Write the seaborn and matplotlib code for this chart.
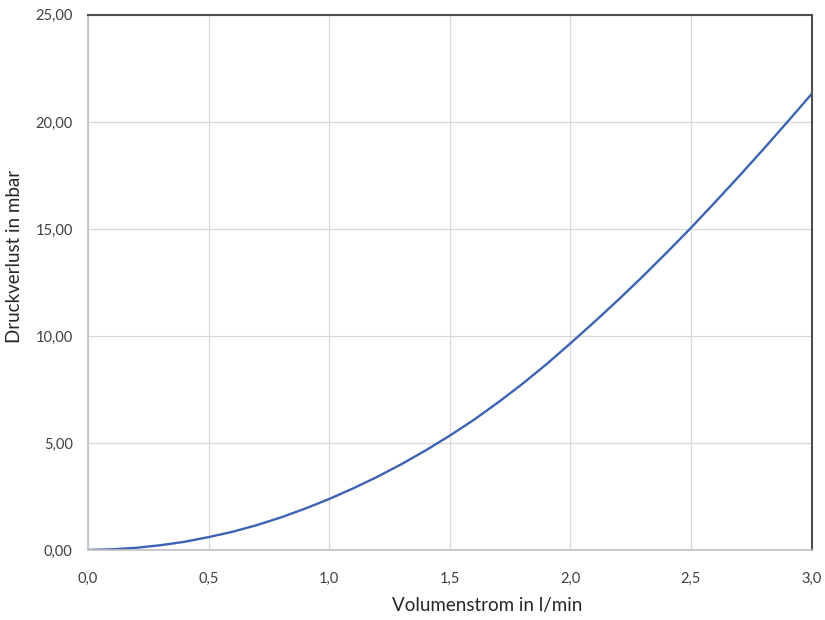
import numpy as np
import pandas as pd
import matplotlib
matplotlib.use("Agg")
import matplotlib.pyplot as plt
from matplotlib.ticker import FuncFormatter, MultipleLocator
import seaborn as sns

# values
volumenstrom = [0.0, 0.1, 0.2, 0.3, 0.4, 0.5, 0.6, 0.7, 0.8, 0.9,
                1.0, 1.1, 1.2, 1.3, 1.4, 1.5, 1.6, 1.7, 1.8, 1.9,
                2.0, 2.1, 2.2, 2.3, 2.4, 2.5, 2.6, 2.7, 2.8, 2.9, 3.0]
druckverlust = [0.00, 0.03, 0.10, 0.22, 0.38, 0.60, 0.85, 1.16, 1.52, 1.93,
                2.38, 2.88, 3.42, 4.01, 4.65, 5.34, 6.08, 6.89, 7.75, 8.67,
                9.65, 10.66, 11.70, 12.78, 13.90, 15.05, 16.25, 17.47, 18.72, 20.00,
                21.30]

df = pd.DataFrame({"Volumenstrom": volumenstrom, "Druckverlust": druckverlust})

sns.set_theme(style="white")
plt.rcParams["font.family"] = ["Lato", "DejaVu Sans"]

fig = plt.figure(figsize=(8.25, 6.2), dpi=100)
ax = fig.add_axes([0.1067, 0.113, 0.877, 0.863])

sns.lineplot(data=df, x="Volumenstrom", y="Druckverlust", ax=ax,
             color="#3d64b4", linewidth=1.7)

ax.set_xlim(0, 3.0)
ax.set_ylim(0, 25)
ax.xaxis.set_major_locator(MultipleLocator(0.5))
ax.yaxis.set_major_locator(MultipleLocator(5))
ax.xaxis.set_major_formatter(FuncFormatter(lambda v, p: f"{v:.1f}".replace(".", ",")))
ax.yaxis.set_major_formatter(FuncFormatter(lambda v, p: f"{v:.2f}".replace(".", ",")))

ax.grid(True, color="#d9d9d9", linewidth=0.9)
ax.set_axisbelow(True)

for side in ["left", "bottom"]:
    ax.spines[side].set_color("#c0c0c0")
    ax.spines[side].set_linewidth(1.2)
for side in ["top", "right"]:
    ax.spines[side].set_color("#505050")
    ax.spines[side].set_linewidth(1.5)

ax.tick_params(axis="both", length=0, labelsize=10.5, colors="#404040")
ax.tick_params(axis="x", pad=16)
ax.tick_params(axis="y", pad=11)

ax.set_xlabel("Volumenstrom in l/min", fontsize=13.5, color="#262626")
ax.set_ylabel("Druckverlust in mbar", fontsize=13.5, color="#262626")
ax.xaxis.set_label_coords(0.551, -0.088)
ax.yaxis.set_label_coords(-0.090, 0.548)

fig.savefig("out.png", dpi=100)
plt.close(fig)
